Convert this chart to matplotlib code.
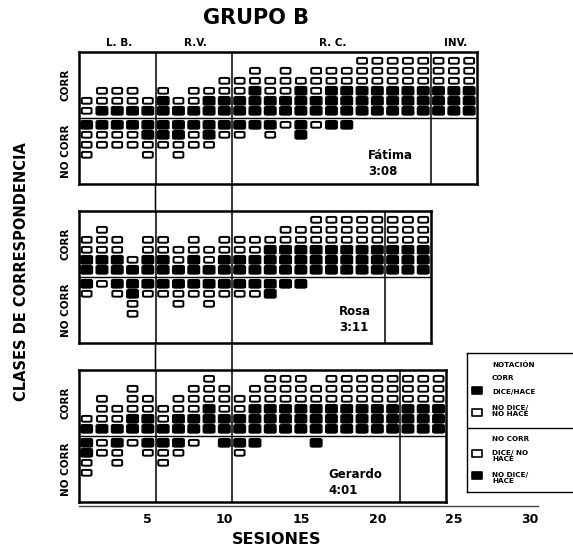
import matplotlib
matplotlib.use("Agg")
import matplotlib.pyplot as plt
from matplotlib.patches import Rectangle, FancyBboxPatch, ConnectionPatch

# one string per session: CORR marks stacked up from the divider,
# NO CORR marks stacked down from it.  F = filled square, O = open square
phases = ["L. B.", "R.V.", "R. C.", "INV."]

fatima_phase_len = [5, 5, 13, 3]
fatima_corr = ["OO", "FOO", "FOO", "FOO", "FO",
               "FFO", "FO", "FOO", "FFO", "FFOO",
               "FFOO", "FFFOO", "FFOO", "FFOOO", "FFFO", "FFOOO", "FFFOO", "FFFOO",
               "FFFOOO", "FFFOOO", "FFFOOO", "FFFOOO", "FFFOOO",
               "FFFOOO", "FFFOOO", "FFFOOO"]
fatima_nocorr = ["FOOO", "FOO", "FOO", "FOO", "FFOO",
                 "FFO", "FFOO", "FOO", "FFO", "FO",
                 "FO", "F", "FO", "O", "FF", "O", "F", "F", "", "", "", "", "",
                 "", "", ""]

rosa_phase_len = [5, 5, 10, 3]
rosa_corr = ["FFOO", "FFOOO", "FFOO", "FO", "FFOO",
             "FFOO", "FOO", "FFOO", "FOO", "FFOO",
             "FFOO", "FFOO", "FFFO", "FFFOO", "FFFOO",
             "FFFOOO", "FFFOOO", "FFFOOO", "FFFOOO", "FFFOOO",
             "FFFOOO", "FFFOOO", "FFFOOO"]
rosa_nocorr = ["FO", "O", "FO", "FFOO", "FO",
               "FO", "FOO", "FO", "FOO", "FO",
               "FO", "FO", "FF", "F", "F", "", "", "", "", "",
               "", "", ""]

gerardo_phase_len = [5, 5, 11, 3]
gerardo_corr = ["FO", "FOOO", "FOO", "FFOOO", "FFOO",
                "FOO", "FFOO", "FFOOO", "FFFOOO", "FFOOO",
                "FFOO", "FFFOO", "FFFOOO", "FFFOOO", "FFFOOO", "FFFOO",
                "FFFOOO", "FFFOOO", "FFFOOO", "FFFOOO", "FFFOOO",
                "FFFOOO", "FFFOOO", "FFFOOO"]
gerardo_nocorr = ["FFOO", "OO", "FOO", "O", "FO",
                  "FOO", "FO", "O", "", "F",
                  "FO", "F", "", "", "", "F", "", "", "", "", "",
                  "", "", ""]

subjects = [("Fátima", "3:08"), ("Rosa", "3:11"), ("Gerardo", "4:01")]
name_pos = [(19.4, -4.55), (17.5, -4.25), (16.8, -4.65)]
session_ticks = [5, 10, 15, 20, 25, 30]

W, H = 573, 547
fig = plt.figure(figsize=(W / 100, H / 100), dpi=100)
plt.rcParams['font.family'] = 'DejaVu Sans'

x0 = 79            # px of session 0.5
pps = 15.3         # px per session
YL = 6.6


def mark(ax, x, y, m):
    if m == "F":
        w, h, fc = 0.72, 0.78, "black"
    else:
        w, h, fc = 0.64, 0.58, "white"
    ax.add_patch(FancyBboxPatch((x - w / 2, y - h / 2), w, h,
                                boxstyle="round,pad=0,rounding_size=0.14",
                                mutation_aspect=1 / 1.53, facecolor=fc,
                                edgecolor="black", lw=1.4))


panel_top_px = [52, 211, 370]
panels = [(fatima_phase_len, fatima_corr, fatima_nocorr),
          (rosa_phase_len, rosa_corr, rosa_nocorr),
          (gerardo_phase_len, gerardo_corr, gerardo_nocorr)]
axes = []
for p, (plen, corr, nocorr) in enumerate(panels):
    n = sum(plen)
    top = panel_top_px[p]
    ax = fig.add_axes([x0 / W, 1 - (top + 132) / H, n * pps / W, 132 / H])
    ax.set_xlim(0.5, n + 0.5)
    ax.set_ylim(-YL, YL)
    ax.set_xticks([])
    ax.set_yticks([])
    for s in ax.spines.values():
        s.set_linewidth(1.8)
    ax.axhline(0, color="black", lw=1.0)
    edge = 0.5
    for L in plen[:-1]:
        edge += L
        ax.axvline(edge, color="black", lw=1.1)
    for i, col in enumerate(corr):
        for k, m in enumerate(col):
            mark(ax, i + 1, 0.72 + k, m)
    for i, col in enumerate(nocorr):
        for k, m in enumerate(col):
            mark(ax, i + 1, -0.68 - k, m)
    ax.text(-0.35, 3.3, "CORR", rotation=90, ha="center", va="center",
            fontsize=7.5, fontweight="bold", clip_on=False)
    ax.text(-0.35, -3.3, "NO CORR", rotation=90, ha="center", va="center",
            fontsize=7.5, fontweight="bold", clip_on=False)
    nm, age = subjects[p]
    ax.text(name_pos[p][0], name_pos[p][1], nm + "\n" + age, ha="left",
            va="center", fontsize=8.5, fontweight="bold", linespacing=1.35)
    axes.append(ax)

# phase names above the first panel
top_ax = axes[0]
edge = 0.5
for name, L in zip(phases, fatima_phase_len):
    top_ax.text(edge + L / 2 + 0.1, 7.5, name, ha="center", va="center",
                fontsize=7.5, fontweight="bold", clip_on=False)
    edge += L

# lines linking the panels
for xs in [5.5, 10.5]:
    fig.add_artist(ConnectionPatch((xs, -YL), (xs, YL), "data", "data",
                                   axesA=axes[0], axesB=axes[1], lw=1.1))
    fig.add_artist(ConnectionPatch((xs, -YL), (xs, YL), "data", "data",
                                   axesA=axes[1], axesB=axes[2], lw=1.1))
inv = [0.5 + sum(pl[:-1]) for pl, _, _ in panels]
fig.add_artist(ConnectionPatch((inv[0], -YL - 0.3), (inv[1], YL + 0.4), "data", "data",
                               axesA=axes[0], axesB=axes[1], lw=1.0))
fig.add_artist(ConnectionPatch((inv[1], -YL - 0.4), (inv[2], YL + 0.3), "data", "data",
                               axesA=axes[1], axesB=axes[2], lw=1.0))

# session axis
sx = fig.add_axes([x0 / W, 1 - 506 / H, 30 * pps / W, 0.0001])
sx.set_xlim(0.5, 30.5)
sx.set_yticks([])
for k in ["top", "left", "right"]:
    sx.spines[k].set_visible(False)
sx.spines["bottom"].set_linewidth(1.0)
sx.spines["bottom"].set_color("#444444")
sx.set_xticks(session_ticks)
sx.tick_params(axis="x", length=0, pad=5, labelsize=9)
for t in sx.get_xticklabels():
    t.set_fontweight("bold")
fig.text(277 / W, 1 - 540 / H, "SESIONES", ha="center", va="center",
         fontsize=11.5, fontweight="bold")

fig.text(256 / W, 1 - 18 / H, "GRUPO B", ha="center", va="center",
         fontsize=15, fontweight="bold")
fig.text(22 / W, 1 - 272 / H, "CLASES DE CORRESPONDENCIA", rotation=90,
         ha="center", va="center", fontsize=10.5, fontweight="bold")

# legend box (coordinates in pixels)
lg = fig.add_axes([467 / W, 1 - 492 / H, 120 / W, 139 / H])
lg.set_xlim(467, 587)
lg.set_ylim(492, 353)
lg.set_xticks([])
lg.set_yticks([])
lg.patch.set_alpha(0)
lg.spines["right"].set_visible(False)
for k in ["left", "top", "bottom"]:
    lg.spines[k].set_linewidth(1.0)
lg.axhline(428, color="black", lw=1.0)
fs = 5.2
lg.text(492, 365, "NOTACIÓN", fontsize=fs, fontweight="bold", va="center")
lg.text(492, 378, "CORR", fontsize=fs, fontweight="bold", va="center")
lg.text(492, 392, "DICE/HACE", fontsize=fs, fontweight="bold", va="center")
lg.text(492, 411, "NO DICE/\nNO HACE", fontsize=fs, fontweight="bold", va="center",
        linespacing=1.1)
lg.text(492, 439, "NO CORR", fontsize=fs, fontweight="bold", va="center")
lg.text(492, 456, "DICE/ NO\nHACE", fontsize=fs, fontweight="bold", va="center",
        linespacing=1.1)
lg.text(492, 478, "NO DICE/\nHACE", fontsize=fs, fontweight="bold", va="center",
        linespacing=1.1)
for y, fc in [(390, "black"), (412, "white"), (453, "white"), (475, "black")]:
    lg.add_patch(Rectangle((472, y - 3.5), 10, 7, facecolor=fc,
                           edgecolor="black", lw=1.2, joinstyle="round"))

fig.savefig("out.png", dpi=100)
